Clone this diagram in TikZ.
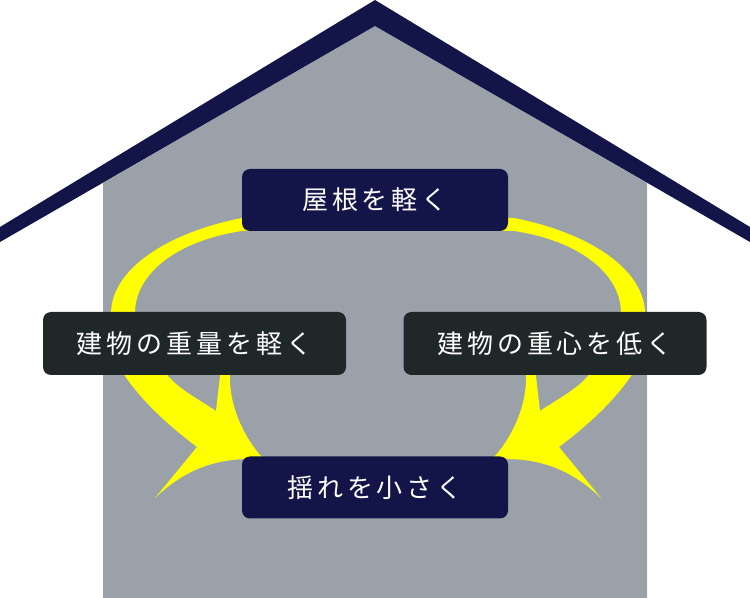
\documentclass[tikz,border=0pt]{standalone}
\usepackage{fontspec}
\usepackage{xcolor}
\usepackage{tikz}
\newfontfamily\jpfont[LetterSpace=15]{Noto Sans CJK JP}
\usetikzlibrary{positioning}

\definecolor{roofnavy}{HTML}{131549}
\definecolor{boxdark}{HTML}{202729}
\definecolor{wallgray}{HTML}{9AA1A9}
\definecolor{arrowyellow}{HTML}{FFFF00}

\tikzset{
  navybox/.style={fill=roofnavy, rounded corners=6pt, text=white, inner sep=0pt,
    minimum width=199.5pt, minimum height=46.5pt,
    font=\jpfont\fontsize{19.5pt}{19.5pt}\selectfont},
  darkbox/.style={navybox, fill=boxdark, minimum width=227.25pt, minimum height=47.25pt},
  swoosh/.style={fill=arrowyellow}
}

% one curved arrow, left side (pixel units, y downwards)
\newcommand{\swooshpath}{
  (262,217) -- (242,218)
  .. controls (170,232) and (111,268) .. (111,314)
  .. controls (111,340) and (116,360) .. (125,376)
  .. controls (145,405) and (172,428) .. (197,447)
  -- (155,498)
  .. controls (182,472) and (212,459) .. (250,459)
  -- (278,466) -- (260,455)
  .. controls (243,435) and (229,405) .. (230,375)
  -- (230,350) -- (223,350) -- (216,411)
  .. controls (200,400) and (180,390) .. (168,376)
  .. controls (148,352) and (135,335) .. (135,313)
  .. controls (135,272) and (180,240) .. (242,231)
  -- (262,231) -- cycle}

\begin{document}
\begin{tikzpicture}[x=0.75pt, y=-0.75pt]
    \useasboundingbox (0,0) rectangle (750,598);

    % house
    \fill[wallgray] (103,183) -- (375,26) -- (647,183) -- (647,598) -- (103,598) -- cycle;
    \fill[roofnavy] (0,227) -- (375,0) -- (750,227) -- (750,242) -- (375,26) -- (0,242) -- cycle;

    % arrows
    \fill[swoosh] \swooshpath;
    \begin{scope}[shift={(756,0)}, xscale=-1]
        \fill[swoosh] \swooshpath;
    \end{scope}

    % boxes
    \node[navybox] (roof) at (375,200) {屋根を軽く};
    \node[darkbox] (weight) at (194.5,343.5) {建物の重量を軽く};
    \node[darkbox] (center) at (555,343.5) {建物の重心を低く};
    \node[navybox] (shake) at (375,487.5) {揺れを小さく};
\end{tikzpicture}
\end{document}
